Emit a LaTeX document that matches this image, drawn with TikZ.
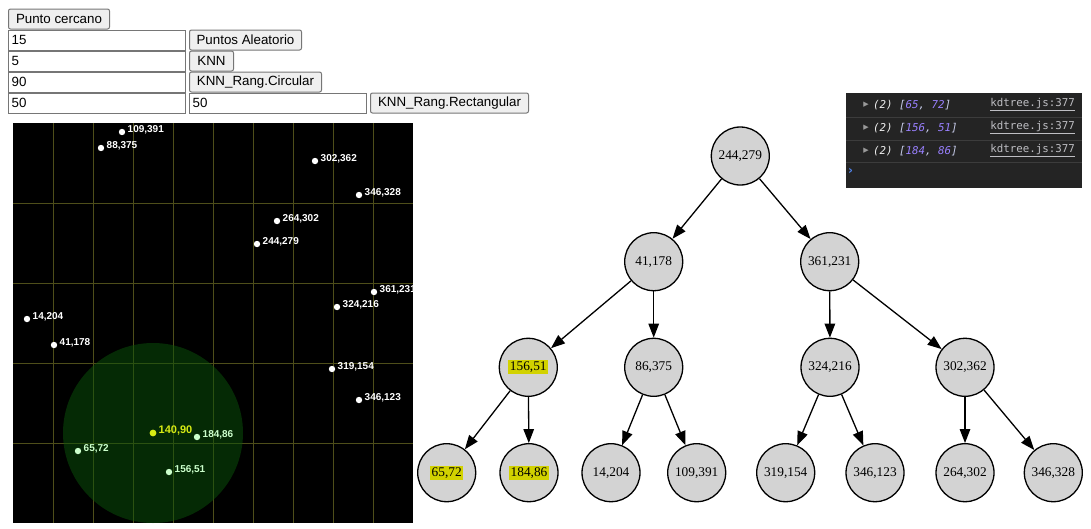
\documentclass[tikz,border=0pt]{standalone}
\usepackage{fontspec}
\setmainfont{Liberation Serif}
\newfontfamily\arialfont{Liberation Sans}
\newfontfamily\consolefont{DejaVu Sans Mono}
\newfontfamily\symbolfont{DejaVu Sans}
\usetikzlibrary{arrows.meta, positioning}

\definecolor{btnfill}{RGB}{239,239,239}
\definecolor{btnline}{RGB}{118,118,118}
\definecolor{gridline}{RGB}{78,78,26}
\definecolor{rangefill}{RGB}{10,85,10}
\definecolor{inrange}{RGB}{204,255,204}
\definecolor{query}{RGB}{215,235,20}
\definecolor{hlyellow}{RGB}{210,210,0}
\definecolor{nodegray}{RGB}{211,211,211}
\definecolor{consolebg}{RGB}{36,36,36}
\definecolor{consoleline}{RGB}{60,60,60}
\definecolor{arrnum}{RGB}{153,128,255}
\definecolor{arrpunct}{RGB}{200,205,235}
\definecolor{linkgray}{RGB}{190,190,195}
\definecolor{promptblue}{RGB}{80,130,230}

\newcommand{\hl}[1]{{\setlength{\fboxsep}{1.5pt}\colorbox{hlyellow}{#1}}}
\newcommand{\arr}[2]{{\color{arrpunct}[}{\color{arrnum}#1}{\color{arrpunct},\ }{\color{arrnum}#2}{\color{arrpunct}]}}

\tikzset{
	button/.style={draw=btnline, fill=btnfill, rounded corners=2pt, line width=1pt, anchor=north west,
		minimum width=#1, minimum height=20pt, inner sep=0pt, font=\arialfont\fontsize{13.33}{16}\selectfont},
	input/.style={draw=btnline, fill=white, line width=1.3pt, anchor=north west, text width=171pt,
		minimum height=20pt, inner xsep=3pt, inner ysep=0pt, align=left, font=\arialfont\fontsize{13.33}{16}\selectfont},
	kdnode/.style={circle, draw, fill=nodegray, line width=1.3pt, minimum size=58pt, inner sep=0pt,
		font=\fontsize{13.33}{16}\selectfont},
	kdedge/.style={line width=1.3pt, -{Triangle[length=14pt, width=10.5pt]}},
	ptlabel/.style={anchor=base west, inner sep=0pt, font=\arialfont\bfseries\fontsize{10}{12}\selectfont},
	consoletext/.style={anchor=west, inner sep=0pt, font=\consolefont\fontsize{10.8}{13}\selectfont}
}

\begin{document}
\begin{tikzpicture}[x=1pt, y=-1pt]
	\useasboundingbox (0,0) rectangle (1091,528);
	% controls
	\node[button=101pt] (btnCercano) at (8,8.5) {Punto cercano};
	\node[input] (inPuntos) at (8,29.5) {15};
	\node[button=112pt] (btnAleatorio) at (189,29.5) {Puntos Aleatorio};
	\node[input] (inK) at (8,50.5) {5};
	\node[button=44pt] (btnKNN) at (189,50.5) {KNN};
	\node[input] (inRadio) at (8,71.5) {90};
	\node[button=132pt] (btnCircular) at (189,71.5) {KNN\_Rang.Circular};
	\node[input] (inAncho) at (8,92.5) {50};
	\node[input] (inAlto) at (189,92.5) {50};
	\node[button=158pt] (btnRect) at (370,92.5) {KNN\_Rang.Rectangular};

	% canvas
	\fill[black] (13,123) rectangle (413,523);
	\begin{scope}
		\clip (13,123) rectangle (413,523);
		\foreach \gx in {53,93,...,373}
			\draw[gridline, line width=1pt] (\gx,123) -- (\gx,523);
		\foreach \gy in {203,283,363,443}
			\draw[gridline, line width=1pt] (13,\gy) -- (413,\gy);
		\fill[rangefill, opacity=0.5] (153,433) circle (90pt);
		\foreach \px/\py in {109/391,88/375,302/362,346/328,264/302,244/279,361/231,324/216,14/204,41/178,319/154,346/123}{
			\fill[white] ({13+\px},{523-\py}) circle (3.2pt);
			\node[ptlabel, white] (pt\px-\py) at ({18.5+\px},{523-\py}) {\px,\py};
		}
		\foreach \px/\py in {184/86,65/72,156/51}{
			\fill[inrange] ({13+\px},{523-\py}) circle (3.2pt);
			\node[ptlabel, inrange] (pt\px-\py) at ({18.5+\px},{523-\py}) {\px,\py};
		}
		\fill[query] (153,433) circle (3.4pt);
		\node[ptlabel, query, font=\arialfont\bfseries\fontsize{11}{13}\selectfont] (ptq) at (158.5,433) {140,90};
	\end{scope}

	% kd-tree
	\node[kdnode] (n244) at (740.3,156) {244,279};
	\node[kdnode] (n41) at (653.7,261.7) {41,178};
	\node[kdnode] (n361) at (829.7,261.7) {361,231};
	\node[kdnode] (n156) at (528.3,367.3) {\hl{156,51}};
	\node[kdnode] (n86) at (653.7,367.3) {86,375};
	\node[kdnode] (n324) at (830,367.3) {324,216};
	\node[kdnode] (n302) at (965,367.3) {302,362};
	\node[kdnode] (n65) at (446.7,472.7) {\hl{65,72}};
	\node[kdnode] (n184) at (529,472.7) {\hl{184,86}};
	\node[kdnode] (n14) at (611,472.7) {14,204};
	\node[kdnode] (n109) at (696.7,472.7) {109,391};
	\node[kdnode] (n319) at (785.7,472.7) {319,154};
	\node[kdnode] (n346a) at (875,472.7) {346,123};
	\node[kdnode] (n264) at (965,472.7) {264,302};
	\node[kdnode] (n346b) at (1053.3,472.7) {346,328};
	\foreach \a/\b in {n244/n41,n244/n361,n41/n156,n41/n86,n361/n324,n361/n302,n156/n65,n156/n184,n86/n14,n86/n109,n324/n319,n324/n346a,n302/n264,n302/n346b}
		\draw[kdedge] (\a) -- (\b);

	% console
	\fill[consolebg] (846,93) rectangle (1082,188);
	\foreach \sy in {117,140,162}
		\draw[consoleline, line width=1pt] (846,\sy) -- (1082,\sy);
	\foreach [count=\i] \ax/\ay in {65/72,156/51,184/86}{
		\node[inner sep=0pt, text=gray!80, font=\symbolfont\fontsize{7}{7}\selectfont] (tri\i) at (866,{82+23*\i}) {▶};
		\node[consoletext] (log\i) at (873,{82+23*\i}) {\itshape{\color{white!88!gray}(2)} \arr{\ax}{\ay}};
		\node[consoletext, anchor=east, text=linkgray] (src\i) at (1075,{82+23*\i}) {\underline{kdtree.js:377}};
	}
	\node[inner sep=0pt, text=promptblue, font=\symbolfont\bfseries\fontsize{12}{12}\selectfont] (prompt) at (850.5,171) {›};
\end{tikzpicture}
\end{document}
